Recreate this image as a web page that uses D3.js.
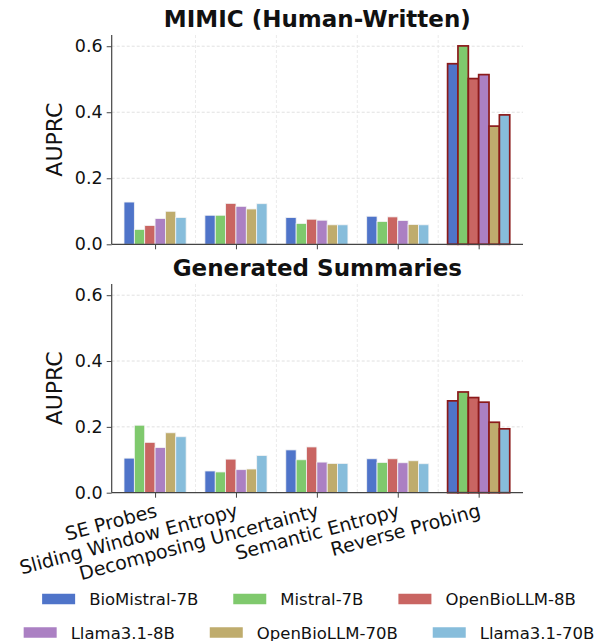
<!DOCTYPE html>
<html><head><meta charset="utf-8">
<script src="https://cdn.jsdelivr.net/npm/d3@7"></script>
<style>body{margin:0;background:#fff}svg{display:block}text{font-family:"DejaVu Sans",sans-serif}</style>
</head><body><svg id="c" width="602" height="641"></svg>
<script>
const categories = ["SE Probes","Sliding Window Entropy","Decomposing Uncertainty","Semantic Entropy","Reverse Probing"];
const models = ["BioMistral-7B","Mistral-7B","OpenBioLLM-8B","Llama3.1-8B","OpenBioLLM-70B","Llama3.1-70B"];
const colors = ["#4f74c9","#7fc96d","#c96562","#ab80c3","#bfac6d","#87bddb"];
// values per model, across categories
const mimic = [
  [0.128,0.088,0.081,0.085,0.547],
  [0.045,0.088,0.063,0.069,0.601],
  [0.057,0.124,0.076,0.083,0.502],
  [0.078,0.115,0.073,0.072,0.514],
  [0.100,0.107,0.059,0.060,0.358],
  [0.081,0.123,0.059,0.059,0.392]
];
const generated = [
  [0.105,0.066,0.130,0.103,0.279],
  [0.205,0.063,0.100,0.092,0.306],
  [0.153,0.102,0.139,0.103,0.289],
  [0.137,0.070,0.093,0.091,0.275],
  [0.182,0.072,0.089,0.097,0.214],
  [0.170,0.113,0.089,0.088,0.194]
];
const yTicks = [0,0.2,0.4,0.6];
const panelTitles = ["MIMIC (Human-Written)","Generated Summaries"];
const highlight = "Reverse Probing";

const svg = d3.select("#c");
const x = d3.scaleLinear().domain([-0.536,4.548]).range([111.7,523]);
const barW = 0.128;
const panels = [
  {data:mimic, top:35, bottom:244.3, title:panelTitles[0], titleY:26.5},
  {data:generated, top:284, bottom:492.7, title:panelTitles[1], titleY:275.5}
];
const ymax = 0.634;

panels.forEach((p,pi)=>{
  const y = d3.scaleLinear().domain([0,ymax]).range([p.bottom,p.top]);
  const g = svg.append("g");
  g.selectAll(".hg").data(yTicks.filter(d=>d>0)).enter().append("line")
    .attr("x1",x.range()[0]).attr("x2",x.range()[1])
    .attr("y1",d=>y(d)).attr("y2",d=>y(d))
    .attr("stroke","#d9d9d9").attr("stroke-width",0.8).attr("stroke-dasharray","3,2");
  g.selectAll(".vg").data(d3.range(categories.length-1).map(i=>i+0.5)).enter().append("line")
    .attr("x1",d=>x(d)).attr("x2",d=>x(d))
    .attr("y1",p.top).attr("y2",p.bottom)
    .attr("stroke","#e6e6e6").attr("stroke-width",0.8).attr("stroke-dasharray","3,2");
  models.forEach((m,mi)=>{
    const off = (mi - (models.length-1)/2)*barW;
    g.selectAll(".b"+mi).data(p.data[mi]).enter().append("rect")
      .attr("x",(d,ci)=>x(ci+off-barW/2))
      .attr("width",x(barW)-x(0))
      .attr("y",d=>y(d))
      .attr("height",d=>y(0)-y(d))
      .attr("fill",colors[mi])
      .attr("stroke",(d,ci)=>categories[ci]===highlight?"#8b1a1a":"#f4f4f4")
      .attr("stroke-width",(d,ci)=>categories[ci]===highlight?1.7:0.8);
  });
  const ya = d3.axisLeft(y).tickValues(yTicks).tickFormat(d3.format(".1f")).tickSize(5).tickPadding(4);
  const yg = g.append("g").attr("transform",`translate(${x.range()[0]},0)`).call(ya);
  yg.select(".domain").attr("stroke","#444").attr("stroke-width",1.2).attr("d",`M0,${p.top}V${p.bottom}`);
  yg.selectAll(".tick line").attr("stroke","#444");
  yg.selectAll(".tick text").attr("font-size",17.5).attr("fill","#111").attr("font-family","DejaVu Sans");
  const xa = d3.axisBottom(x).tickValues(d3.range(categories.length)).tickFormat("").tickSize(5);
  const xg = g.append("g").attr("transform",`translate(0,${p.bottom})`).call(xa);
  xg.select(".domain").attr("stroke","#444").attr("stroke-width",1.2).attr("d",`M${x.range()[0]},0H${x.range()[1]}`);
  xg.selectAll(".tick line").attr("stroke","#444");
  g.append("text").attr("transform",`translate(62,${(p.top+p.bottom)/2}) rotate(-90)`)
    .attr("text-anchor","middle").attr("font-size",22).attr("fill","#111").text("AUPRC");
  g.append("text").attr("x",(x.range()[0]+x.range()[1])/2).attr("y",p.titleY)
    .attr("text-anchor","middle").attr("font-size",23).attr("font-weight","bold").attr("fill","#111").text(p.title);
  if(pi===1){
    categories.forEach((c,ci)=>{
      g.append("g").attr("transform",`translate(${x(ci)-1},${p.bottom+9}) rotate(-15)`)
        .append("text").attr("text-anchor","end").attr("dy","0.8em")
        .attr("font-size",19).attr("fill","#111").text(c);
    });
  }
});

// legend
const rows = [[0,1,2],[3,4,5]];
const rowY = [599,632.5];
const patchW = 33, patchH = 10.5, pgap = 14, igap = 35;
rows.forEach((r,ri)=>{
  const lg = svg.append("g");
  let cx = 0;
  r.forEach(mi=>{
    const it = lg.append("g").attr("transform",`translate(${cx},0)`);
    it.append("rect").attr("x",0).attr("y",rowY[ri]-patchH/2).attr("width",patchW).attr("height",patchH).attr("fill",colors[mi]);
    const t = it.append("text").attr("x",patchW+pgap).attr("y",rowY[ri]+6).attr("font-size",16.5).attr("fill","#111").text(models[mi]);
    cx += patchW+pgap+t.node().getComputedTextLength()+igap;
  });
  const total = cx-igap;
  lg.attr("transform",`translate(${309-total/2},0)`);
});
</script></body></html>
